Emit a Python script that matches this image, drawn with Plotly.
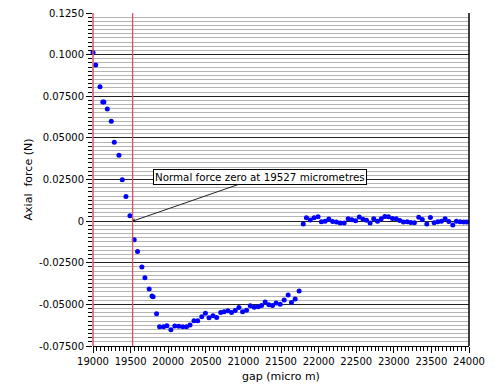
import plotly.graph_objects as go

gap_um = [19000, 19036, 19093, 19130, 19145, 19190, 19243, 19283, 19345, 19389,
          19438, 19491, 19548, 19592, 19650, 19690, 19747, 19785, 19798, 19845,
          19885, 19938, 19982, 20036, 20088, 20141, 20194, 20243, 20290, 20343,
          20392, 20446, 20495, 20543, 20596, 20645, 20698, 20743, 20794, 20843,
          20892, 20940, 20989, 21042, 21091, 21144, 21197, 21241, 21290, 21339,
          21387, 21435, 21489, 21542, 21595, 21639, 21688, 21741, 21796, 21838,
          21889, 21940, 21993, 22037, 22086, 22136, 22187, 22238, 22287, 22340,
          22393, 22442, 22492, 22541, 22590, 22637, 22685, 22733, 22783, 22833,
          22881, 22929, 22982, 23032, 23080, 23128, 23178, 23226, 23274, 23332,
          23379, 23439, 23487, 23536, 23585, 23633, 23682, 23731, 23784, 23832,
          23881, 23930, 23970]

axial_force_N = [0.1013, 0.0937, 0.0807, 0.0715, 0.0715, 0.0673, 0.0600, 0.0473, 0.0396, 0.0248,
                 0.0148, 0.0033, -0.0112, -0.0182, -0.0276, -0.0340, -0.0408, -0.0450, -0.0454, -0.0556,
                 -0.0635, -0.0635, -0.0629, -0.0653, -0.0630, -0.0631, -0.0635, -0.0635, -0.0624, -0.0599,
                 -0.0599, -0.0575, -0.0553, -0.0581, -0.0569, -0.0579, -0.0549, -0.0545, -0.0539, -0.0549,
                 -0.0537, -0.0519, -0.0545, -0.0535, -0.0509, -0.0517, -0.0515, -0.0507, -0.0485, -0.0503,
                 -0.0507, -0.0491, -0.0499, -0.0473, -0.0443, -0.0489, -0.0467, -0.0420, -0.0017, 0.0020,
                 0.0007, 0.0020, 0.0027, -0.0004, -0.0001, 0.0013, -0.0002, -0.0006, -0.0011, -0.0011,
                 0.0014, 0.0008, 0.0003, 0.0025, 0.0012, 0.0006, -0.0012, 0.0014, -0.0001, 0.0014,
                 0.0028, 0.0026, 0.0016, 0.0014, 0.0004, -0.0006, -0.0004, -0.0008, -0.0010, 0.0024,
                 0.0010, -0.0018, 0.0022, -0.0010, -0.0004, 0.0000, 0.0014, -0.0002, -0.0024, 0.0000,
                 -0.0004, -0.0006, -0.0006]

x_ticks = [19000, 19500, 20000, 20500, 21000, 21500, 22000, 22500, 23000, 23500, 24000]
x_tick_labels = [str(v) for v in x_ticks]
y_ticks = [-0.075, -0.05, -0.025, 0, 0.025, 0.05, 0.075, 0.1, 0.125]
y_tick_labels = ["-0.07500", "-0.05000", "-0.02500", "0", "0.02500", "0.05000", "0.07500", "0.1000", "0.1250"]

ref_lines = [19527]
zero_gap = 19527
note_text = "Normal force zero at 19527 micrometres"

FONT = "DejaVu Sans"
RED = "#d9506a"

fig = go.Figure()
fig.add_trace(go.Scatter(
    x=gap_um, y=axial_force_N, mode="markers",
    marker=dict(color="#0000ff", size=5, line=dict(width=0)),
    showlegend=False, cliponaxis=False,
))

for xv in ref_lines:
    fig.add_shape(type="line", xref="x", yref="paper", x0=xv, x1=xv, y0=0, y1=1,
                  line=dict(color=RED, width=1.3), layer="above")

# left red frame edge and right-hand black frame edge
fig.add_shape(type="line", xref="paper", yref="paper", x0=0, x1=0, y0=0, y1=1,
              line=dict(color=RED, width=1.5), layer="above")
fig.add_shape(type="line", xref="paper", yref="paper", x0=1, x1=1, y0=0, y1=1,
              line=dict(color="black", width=1.5), layer="above")

fig.add_annotation(
    x=zero_gap, y=0, xref="x", yref="y", text=note_text,
    showarrow=True, arrowhead=1, arrowsize=0.8, arrowwidth=1, arrowcolor="#222222",
    ax=127, ay=-44, bgcolor="white", bordercolor="black", borderwidth=1, borderpad=1,
    font=dict(family=FONT, size=10.3, color="black"),
)

fig.update_layout(
    width=498, height=390,
    margin=dict(l=93, r=29, t=13, b=44),
    paper_bgcolor="white", plot_bgcolor="white",
    font=dict(family=FONT, size=10, color="black"),
    xaxis=dict(
        range=[19000, 24000], tickvals=x_ticks, ticktext=x_tick_labels,
        showgrid=False, zeroline=False,
        showline=True, linecolor="black", linewidth=1,
        ticks="outside", ticklen=6, tickcolor="black",
        minor=dict(dtick=50, tick0=19000, ticks="outside", ticklen=4, tickcolor="black", showgrid=False),
        title=dict(text="gap (micro m)", font=dict(family=FONT, size=11), standoff=6),
        automargin=False,
    ),
    yaxis=dict(
        range=[-0.075, 0.125], tickvals=y_ticks, ticktext=y_tick_labels,
        showgrid=True, gridcolor="#222222", gridwidth=1, zeroline=False,
        showline=False,
        ticks="outside", ticklen=6, tickcolor="black",
        minor=dict(dtick=0.0025, tick0=0, ticks="outside", ticklen=4, tickcolor="black",
                   showgrid=True, gridcolor="#b4b4b4", gridwidth=1.4),
        title=dict(text="Axial\u00a0 force (N)", font=dict(family=FONT, size=11), standoff=4),
        automargin=False,
    ),
)

fig.write_html("out.html", config={"displayModeBar": False},
               post_script="document.body.style.margin='0';")
